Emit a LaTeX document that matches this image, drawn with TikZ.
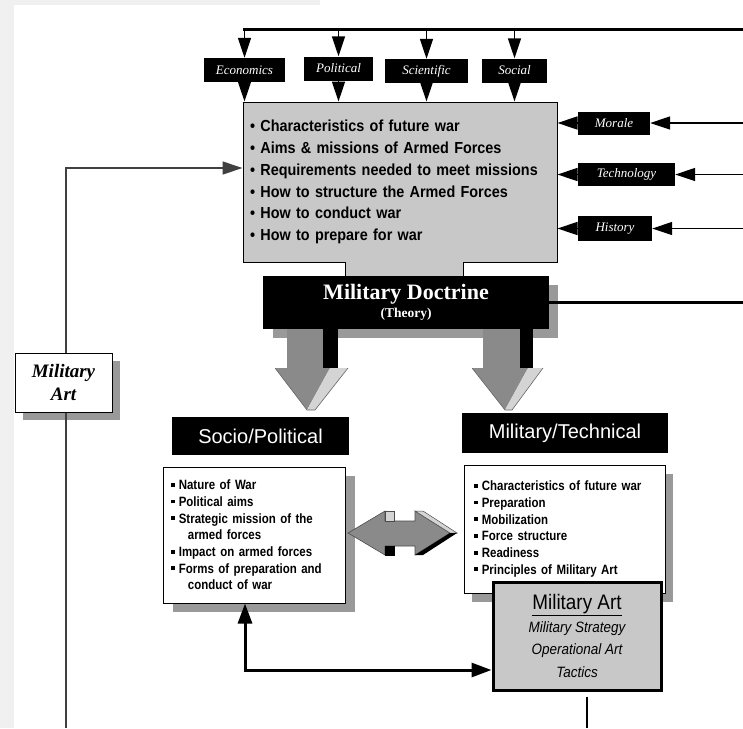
\documentclass[tikz,border=0pt]{standalone}
\usepackage{fontspec}
\setmainfont{Liberation Serif}
\setsansfont{Liberation Sans}
\newfontfamily\narrowfont[FakeStretch=0.85]{Liberation Sans}
\newfontfamily\semifont[FakeStretch=0.9]{Liberation Sans}
\usetikzlibrary{arrows.meta,calc}
\definecolor{boxgray}{HTML}{C8C8C8}
\definecolor{shadowgray}{HTML}{999999}
\definecolor{arrowgray}{HTML}{8A8A8A}
\definecolor{lightgraytwo}{HTML}{D4D4D4}
\definecolor{bggray}{HTML}{F0F0F0}
\newcommand{\sqbul}{\rule[0.22em]{0.28em}{0.28em}\hspace{0.3em}}
\begin{document}
\begin{tikzpicture}[x=1pt,y=-1pt,
  lbl/.style={fill=black,text=white,font=\itshape\fontsize{13}{14}\selectfont,inner sep=0pt,minimum height=24pt},
  headarr/.style={-{Triangle[length=20pt,width=13pt]}},
  hdr/.style={fill=black,text=white,font=\sffamily\fontsize{20}{24}\selectfont,inner sep=0pt},
  listbox/.style={draw=black,line width=1pt,fill=white,align=left,font=\narrowfont\bfseries\fontsize{13.5}{16.7}\selectfont}]
\useasboundingbox (0,0) rectangle (743,728);
\fill[white] (0,0) rectangle (743,728);
\fill[bggray] (0,0) rectangle (14,728);
\fill[bggray] (0,0) rectangle (320,5);

% main grey box
\node[draw=black,line width=1pt,fill=boxgray,minimum height=160pt,text width=300pt,inner xsep=7pt,align=left,
  font=\semifont\bfseries\fontsize{16}{21.8}\selectfont] (main) at (400,182)
  {\textbullet\ Characteristics of future war\\
   \textbullet\ Aims \& missions of Armed Forces\\
   \textbullet\ Requirements needed to meet missions\\
   \textbullet\ How to structure the Armed Forces\\
   \textbullet\ How to conduct war\\
   \textbullet\ How to prepare for war};
\fill[boxgray] (345,261) rectangle (463,279);
\draw[line width=1pt] (345,262) -- (345,279) (463,262) -- (463,279);

% top labels
\node[lbl,minimum width=81pt] (econ) at (244.5,70) {Economics};
\node[lbl,minimum width=69pt] (pol) at (338.5,68.5) {Political};
\node[lbl,minimum width=83pt] (sci) at (426.5,71) {Scientific};
\node[lbl,minimum width=65pt] (soc) at (514.5,70.5) {Social};
\coordinate (topR) at (743,29);
\draw[line width=3pt] (topR) -- ([xshift=-1.5pt]econ.north |- topR);
\foreach \n in {econ,pol,sci,soc}{
  \draw[line width=1.5pt,headarr] (\n.north |- topR) -- (\n.north);
  \draw[line width=1.5pt,headarr] (\n.south) -- (\n.south |- main.north);
}

% right labels
\node[lbl,minimum width=72pt,minimum height=23pt] (mor) at (614,123) {Morale};
\node[lbl,minimum width=97pt,minimum height=23pt] (tec) at (626.5,174.5) {Technology};
\node[lbl,minimum width=74pt,minimum height=25pt] (his) at (615,228.5) {History};
\foreach \n in {mor,tec,his}{
  \draw[line width=1.5pt,headarr] (\n.west) -- (\n.west -| main.east);
  \draw[line width=1.2pt,headarr] (\n.east -| topR) -- (\n.east);
}

% doctrine shadow
\fill[shadowgray] (273,285) rectangle (558,338);
% big down arrows
\fill[arrowgray] (287,329) rectangle (323,369);
\fill[black] (323,329) rectangle (338,369);
\fill[arrowgray] (275,368) -- (330,368) -- (307,410) -- cycle;
\fill[lightgraytwo] (330,368) -- (348,368) -- (315,410) -- (307,410) -- cycle;
\draw[line width=0.6pt,black!60] (275,368) -- (307,410) -- (315,410) -- (348,368);
\fill[arrowgray] (483,329) rectangle (520,369);
\fill[black] (520,329) rectangle (533,369);
\fill[arrowgray] (472,368) -- (528,368) -- (505,410) -- cycle;
\fill[lightgraytwo] (528,368) -- (543,368) -- (512,410) -- (505,410) -- cycle;
\draw[line width=0.6pt,black!60] (472,368) -- (505,410) -- (512,410) -- (543,368);

% doctrine box
\node[fill=black,text=white,minimum width=286pt,minimum height=53pt,align=center,inner sep=0pt] (doc) at (406,302.5)
  {{\fontsize{22}{24}\selectfont\bfseries Military Doctrine}\\[3pt]{\fontsize{13.5}{15}\selectfont\bfseries (Theory)}};
\coordinate (docR) at (743,303);
\draw[line width=3pt] (doc.east) -- (doc.east -| docR);

% left Military Art
\fill[shadowgray] (23,361) rectangle (120,420);
\node[draw=black,line width=1pt,fill=white,minimum width=97pt,minimum height=59pt,align=center,inner sep=0pt,
  font=\bfseries\itshape\fontsize{19}{23}\selectfont] (mal) at (63.5,382.5) {Military\\Art};
\coordinate (fb) at (66,168);
\coordinate (bl) at (66,728);
\draw[line width=1.3pt,black!75,headarr] ([xshift=2.5pt]mal.north) -- (fb) -- (fb -| main.west);
\draw[line width=1.3pt,black!75] ([xshift=2.5pt]mal.south) -- (bl);

% headers
\node[hdr,minimum width=177pt,minimum height=38pt] (sph) at (260.5,436) {Socio/Political};
\node[hdr,minimum width=206pt,minimum height=40pt] (mth) at (565,433) {Military/Technical};

% socio box
\fill[shadowgray] (173,476) rectangle (355,612);
\node[listbox,minimum height=136pt,text width=166pt,inner xsep=8pt] (sp) at (254,535)
  {\sqbul Nature of War\\
   \sqbul Political aims\\
   \sqbul Strategic mission of the\\
   \hspace*{1.25em}armed forces\\
   \sqbul Impact on armed forces\\
   \sqbul Forms of preparation and\\
   \hspace*{1.25em}conduct of war};

% military technical box
\fill[shadowgray] (472,474) rectangle (673,602);
\node[listbox,minimum height=128pt,text width=181pt,inner xsep=10pt] (mt) at (564.5,529)
  {\sqbul Characteristics of future war\\
   \sqbul Preparation\\
   \sqbul Mobilization\\
   \sqbul Force structure\\
   \sqbul Readiness\\
   \sqbul Principles of Military Art};

% double horizontal arrow
\filldraw[fill=arrowgray,draw=black!70,line width=0.6pt]
  (348,533) -- (385,511) -- (385,521) -- (415,521) -- (415,511) -- (450,533) -- (415,555) -- (415,546) -- (385,546) -- (385,555) -- cycle;
\filldraw[fill=lightgraytwo,draw=black!70,line width=0.5pt] (385,511) rectangle (394,521);
\filldraw[fill=black,draw=black] (385,546) rectangle (394,555);
\filldraw[fill=lightgraytwo,draw=black!70,line width=0.5pt] (415,511) -- (423,511) -- (457,533) -- (450,533) -- cycle;
\fill[black] (450,533) -- (457,533) -- (423,555) -- (415,555) -- cycle;

% Military Art box
\node[draw=black,line width=3pt,fill=boxgray,minimum width=168pt,minimum height=108pt,align=center,inner sep=0pt,
  font=\semifont\fontsize{15}{22.5}\selectfont] (ma) at (577,636)
  {{\fontsize{21}{24}\selectfont\underline{Military Art}}\\
   \itshape Military Strategy\\
   \itshape Operational Art\\
   \itshape Tactics};

\draw[line width=3pt,{Triangle[length=20pt,width=14pt]}-{Triangle[length=20pt,width=14pt]}]
  ([xshift=-9pt]sp.south) |- ([yshift=-34pt]ma.west);
\coordinate (br) at (587,728);
\draw[line width=1.2pt] ([xshift=10pt,yshift=-5pt]ma.south) -- (br);
\end{tikzpicture}
\end{document}
